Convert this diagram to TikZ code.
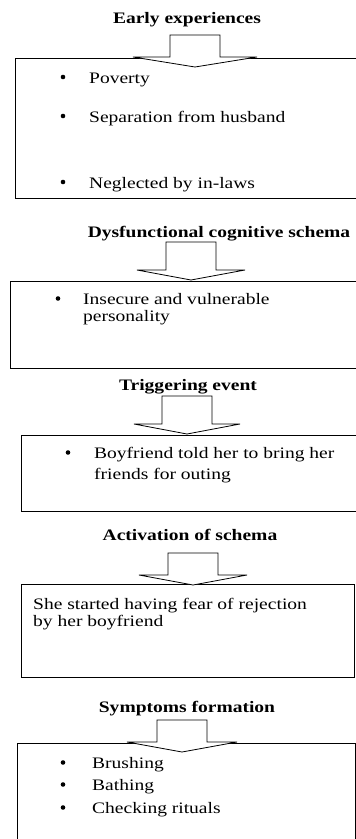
\documentclass[tikz,border=0pt]{standalone}
\usepackage{fontspec}
\setmainfont[FakeStretch=1.22]{Liberation Serif}
\usetikzlibrary{calc}
\newcommand{\txt}{\fontsize{16}{19}\selectfont}

\begin{document}
\begin{tikzpicture}[x=1pt,y=-1pt,
  stage/.style={anchor=base,inner sep=0,font=\txt\bfseries},
  point/.style={anchor=base west,inner sep=0,font=\txt},
  dot/.style={circle,fill,inner sep=0,minimum size=4.6pt},
  panel/.style={draw,line width=0.9pt,anchor=north west,inner sep=0},
  fat/.style={draw,line width=0.8pt,fill=white,line join=miter}]
\useasboundingbox (0,0) rectangle (356,839);
% boxes
\node[panel,minimum width=365pt,minimum height=140pt] (b1) at (15,58) {};
\node[panel,minimum width=370pt,minimum height=87pt] (b2) at (10,281) {};
\node[panel,minimum width=359pt,minimum height=76pt] (b3) at (21,435) {};
\node[panel,minimum width=333pt,minimum height=93pt] (b4) at (21,584) {};
\node[panel,minimum width=338pt,minimum height=120pt] (b5) at (17,743) {};
% block arrows: stem centre / stem top / tip / stem half width / head half width
\foreach \cx/\ya/\yb/\s/\w in {195/35/67/25/62,191/242/280/25/54,187/396/434/25/53,193/553/585/25/54,182/720/752/25/55}
  \draw[fat] (\cx-\s,\ya) -- (\cx+\s,\ya) -- (\cx+\s,\yb-10) -- (\cx+\w,\yb-10)
    -- (\cx,\yb) -- (\cx-\w,\yb-10) -- (\cx-\s,\yb-10) -- cycle;
% headings
\node[stage] (t1) at (187,23) {Early experiences};
\node[stage] (t2) at (219,237) {Dysfunctional cognitive schema};
\node[stage] (t3) at (188,390) {Triggering event};
\node[stage] (t4) at (190,540) {Activation of schema};
\node[stage] (t5) at (187,712) {Symptoms formation};
% box contents
\node[dot] (d11) at (63,77) {};
\node[point] (e11) at (89,83) {Poverty};
\node[dot] (d12) at (63,116) {};
\node[point] (e12) at (89,122) {Separation from husband};
\node[dot] (d13) at (63,182) {};
\node[point] (e13) at (89,188) {Neglected by in-laws};
\node[dot] (d21) at (58,298.5) {};
\node[point] (e21) at (83,304) {Insecure and vulnerable};
\node[point] (e22) at (83,321) {personality};
\node[dot] (d31) at (68,452.5) {};
\node[point] (e31) at (94,458) {Boyfriend told her to bring her};
\node[point] (e32) at (94,479) {friends for outing};
\node[point] (e41) at (33,609) {She started having fear of rejection};
\node[point] (e42) at (33,626) {by her boyfriend};
\node[dot] (d51) at (63,762.5) {};
\node[point] (e51) at (92,768) {Brushing};
\node[dot] (d52) at (63,784.5) {};
\node[point] (e52) at (92,790) {Bathing};
\node[dot] (d53) at (63,807.5) {};
\node[point] (e53) at (92,813) {Checking rituals};
\end{tikzpicture}
\end{document}
